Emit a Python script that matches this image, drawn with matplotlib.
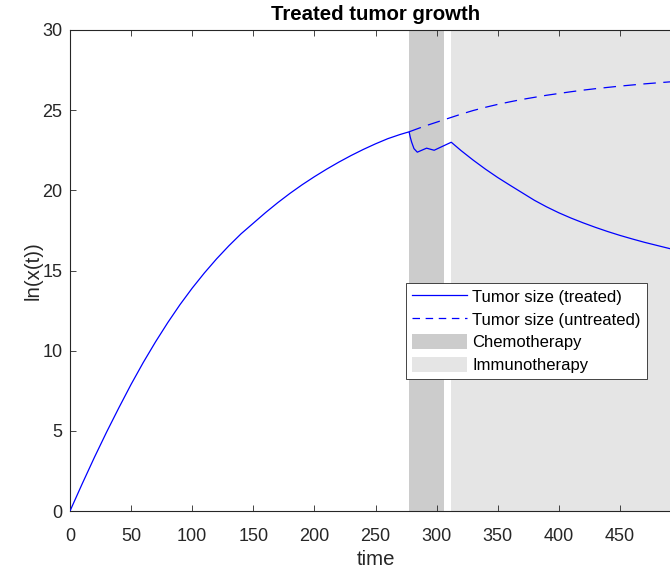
import numpy as np
import matplotlib
matplotlib.use("Agg")
import matplotlib.pyplot as plt
from matplotlib.patches import Patch
from matplotlib.lines import Line2D

# Values
# growth phase (treated and untreated identical up to start of chemo)
t_growth = [0, 10, 20, 30, 40, 50, 60, 70, 80, 90, 100, 110, 120, 130, 140, 150,
            160, 170, 180, 190, 200, 210, 220, 230, 240, 250, 260, 270, 277.5]
y_growth = [0, 1.7, 3.35, 4.93, 6.44, 7.9, 9.27, 10.55, 11.75, 12.87, 13.9, 14.85,
            15.73, 16.54, 17.29, 17.95, 18.61, 19.23, 19.81, 20.35, 20.85, 21.32,
            21.76, 22.17, 22.55, 22.9, 23.22, 23.48, 23.65]

# untreated continuation
t_untreated = [290, 300, 310, 320, 330, 340, 350, 360, 370, 380, 390, 400, 410, 420,
               430, 440, 450, 460, 470, 480, 490, 500]
y_untreated = [24.0, 24.25, 24.5, 24.75, 24.98, 25.18, 25.36, 25.52, 25.67, 25.8,
               25.93, 26.04, 26.15, 26.25, 26.34, 26.42, 26.5, 26.57, 26.64, 26.7,
               26.76, 26.81]

# treated: chemo then immunotherapy
t_treated = [278.5, 279.6, 281.5, 284.2, 291.8, 298, 312, 320, 330, 340, 350, 360,
             370, 380, 390, 400, 410, 420, 430, 440, 450, 460, 470, 480, 490, 500]
y_treated = [23.3, 23.0, 22.6, 22.38, 22.63, 22.5, 23.0, 22.48, 21.88, 21.32, 20.8,
             20.32, 19.85, 19.38, 18.97, 18.6, 18.27, 17.97, 17.69, 17.43, 17.19,
             16.97, 16.76, 16.57, 16.38, 16.2]

chemo = (277.3, 306)
immuno = (312, 500)

plt.rcParams['font.family'] = ['Liberation Sans', 'DejaVu Sans']

fig = plt.figure(figsize=(6.7, 5.72), dpi=100)
ax = fig.add_axes([70 / 670, 1 - 511 / 572, 611 / 670, 481 / 572])

ax.axvspan(*chemo, color='#cccccc', lw=0, zorder=0)
ax.axvspan(*immuno, color='#e5e5e5', lw=0, zorder=0)

tg = np.array(t_growth)
yg = np.array(y_growth)
ax.plot(np.concatenate([tg, t_treated]), np.concatenate([yg, y_treated]),
        color='blue', lw=0.9, zorder=3)
ax.plot(np.concatenate([tg[-1:], t_untreated]), np.concatenate([yg[-1:], y_untreated]),
        color='blue', lw=0.9, dashes=(10, 6), zorder=3)

ax.set_xlim(0, 500)
ax.set_ylim(0, 30)
ax.set_xticks(np.arange(0, 451, 50))
ax.set_yticks(np.arange(0, 31, 5))
ax.tick_params(direction='in', length=4, width=0.6, top=True, right=True,
               colors='#262626', labelsize=13)
ax.tick_params(axis='x', pad=12)
ax.tick_params(axis='y', pad=5.5)
for s in ax.spines.values():
    s.set_color('#262626')
    s.set_linewidth(0.8)

ax.set_xlabel('time', fontsize=14.7, color='#262626', labelpad=4)
ax.set_ylabel('ln(x(t))', fontsize=14.7, color='#262626', labelpad=0)
ax.set_title('Treated tumor growth', fontsize=14.7, fontweight='bold', pad=7)

handles = [
    Line2D([], [], color='blue', lw=0.9),
    Line2D([], [], color='blue', lw=0.9, dashes=(6, 4.5)),
    Patch(facecolor='#cccccc', edgecolor='none'),
    Patch(facecolor='#e5e5e5', edgecolor='none'),
]
labels = ['Tumor size (treated)', 'Tumor size (untreated)', 'Chemotherapy', 'Immunotherapy']
leg = fig.legend(handles, labels, loc='upper left', bbox_to_anchor=(406 / 670, 1 - 282.7 / 572),
                 fancybox=False, framealpha=1, edgecolor='#262626', fontsize=12,
                 handlelength=3.3, handleheight=1.05, handletextpad=0.32,
                 labelspacing=0.38, borderpad=0.35, borderaxespad=0)
leg.get_frame().set_linewidth(0.6)

fig.savefig('out.png', dpi=100)
